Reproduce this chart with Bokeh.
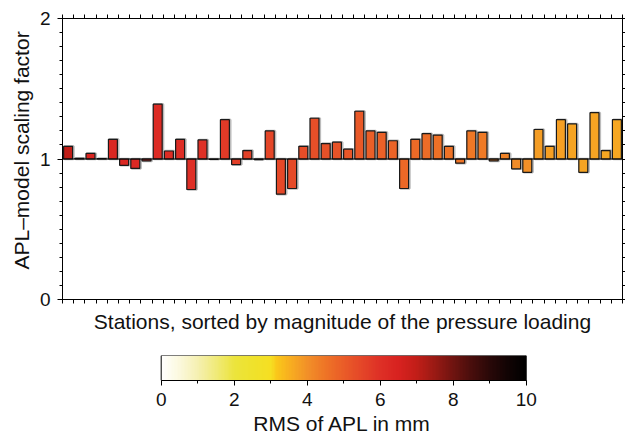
import numpy as np
from bokeh.plotting import figure
from bokeh.models import (ColumnDataSource, LinearColorMapper, Range1d, LinearAxis,
                          FixedTicker, Span, Title)
from bokeh.layouts import column
from bokeh.transform import dodge
from bokeh.embed import file_html
from bokeh.resources import INLINE

# ---------------- data ----------------
station = list(range(1, 51))
factor = [1.09, 1.005, 1.04, 1.003, 1.14, 0.955, 0.933, 0.986, 1.39, 1.057,
          1.14, 0.783, 1.136, 0.998, 1.28, 0.96, 1.06, 0.996, 1.20, 0.75,
          0.79, 1.09, 1.29, 1.11, 1.12, 1.07, 1.34, 1.20, 1.19, 1.13,
          0.79, 1.14, 1.18, 1.17, 1.09, 0.97, 1.20, 1.19, 0.986, 1.04,
          0.93, 0.905, 1.21, 1.09, 1.28, 1.25, 0.905, 1.33, 1.06, 1.28]
rms_mm = [7.0, 6.6, 6.4, 6.35, 6.3, 6.3, 6.25, 6.2, 6.2, 6.15,
          6.1, 6.05, 6.0, 5.9, 5.75, 5.7, 5.65, 5.6, 5.5, 5.45,
          5.4, 5.35, 5.3, 5.25, 5.2, 5.15, 5.05, 4.95, 4.9, 4.85,
          4.75, 4.7, 4.65, 4.6, 4.55, 4.5, 4.45, 4.4, 4.3, 4.25,
          4.1, 4.0, 3.8, 3.75, 3.75, 3.7, 3.7, 3.7, 3.65, 3.65]
BASE = 1.0
y_ticks = [0, 1, 2]
cbar_ticks = [0, 2, 4, 6, 8, 10]

# colour scale anchors (value, colour)
cmap_vals = [0.0, 0.5, 1.0, 1.5, 2.0, 2.5, 3.0, 3.15, 3.5, 4.0, 4.5, 5.0,
             5.5, 6.0, 6.5, 7.0, 7.5, 8.0, 8.5, 9.0, 9.5, 10.0]
cmap_cols = ["#ffffff", "#fbf8dc", "#f5f0b0", "#f0ea78", "#ece43c", "#efe22c",
             "#f6df22", "#fac81a", "#f8b020", "#f29028", "#ee7426", "#ea5c28",
             "#e44628", "#de3026", "#d82220", "#c21e18", "#9a1a14", "#701410",
             "#4a0e0c", "#2a0808", "#120404", "#000000"]


def hex2rgb(h):
    return np.array([int(h[i:i + 2], 16) for i in (1, 3, 5)], float)


grid = np.linspace(cbar_ticks[0], cbar_ticks[-1], 256)
rgb = np.array([hex2rgb(c) for c in cmap_cols])
palette = []
for g in grid:
    r = [np.interp(g, cmap_vals, rgb[:, k]) for k in range(3)]
    palette.append("#%02x%02x%02x" % tuple(int(round(v)) for v in r))

mapper = LinearColorMapper(palette=palette, low=cbar_ticks[0], high=cbar_ticks[-1])

FONT = "Liberation Sans"
TXT = "#111111"

# layout (pixels)
W = 625
BL, FW, BR = 62, 560, 3          # left border, frame width, right border
CB_L, CB_R = 160.7, 525.7         # colour bar pixel extent

# ---------------- main figure ----------------
src = ColumnDataSource(dict(station=station, factor=factor, rms=rms_mm))

p = figure(width=W, height=340, x_range=Range1d(0.5, len(station) + 0.5), y_range=Range1d(0, 2),
           output_backend="svg", toolbar_location=None,
           min_border_left=BL, min_border_right=BR, min_border_top=18, min_border_bottom=41)
p.xgrid.visible = False
p.ygrid.visible = False
p.outline_line_color = "black"
p.outline_line_width = 1
p.background_fill_color = "white"
p.border_fill_color = "white"

xtick = FixedTicker(ticks=[s - 0.5 for s in station] + [station[-1] + 0.5], minor_ticks=[])
ytick = FixedTicker(ticks=y_ticks, minor_ticks=[i / 10 for i in range(0, 21)])

xa = p.xaxis[0]
xa.ticker = xtick
xa.major_label_text_font_size = "0px"
xa.major_label_text_color = None
xa.major_label_standoff = 0
xa.major_tick_out = 4
xa.major_tick_in = 0
xa.minor_tick_out = 0
xa.axis_label = "Stations, sorted by magnitude of the pressure loading"
xa.axis_label_text_font = FONT
xa.axis_label_text_font_size = "21px"
xa.axis_label_text_font_style = "normal"
xa.axis_label_text_color = TXT
xa.axis_label_standoff = 6

ya = p.yaxis[0]
ya.ticker = ytick
ya.major_label_text_font = FONT
ya.major_label_text_font_size = "19px"
ya.major_label_text_color = TXT
ya.major_label_standoff = 7
ya.major_tick_out = 5
ya.major_tick_in = 0
ya.minor_tick_out = 3
ya.minor_tick_in = 0

# y label as a side title so it can sit slightly above the frame centre, like the original
ytitle = Title(text="APL\u2013model scaling factor", align="left", offset=30,
               vertical_align="bottom", standoff=8, text_font=FONT,
               text_font_size="21px", text_font_style="normal", text_color=TXT)
p.add_layout(ytitle, "left")

ra = LinearAxis(ticker=ytick, major_label_text_font_size="0px", major_label_text_color=None,
                major_label_standoff=0,
                major_tick_out=3, major_tick_in=0, minor_tick_out=3, minor_tick_in=0)
p.add_layout(ra, "right")
ta = LinearAxis(ticker=xtick, major_label_text_font_size="0px", major_label_text_color=None,
                major_label_standoff=0,
                major_tick_out=4, major_tick_in=0, minor_tick_out=0, minor_tick_in=0)
p.add_layout(ta, "above")
for ax in (xa, ya, ra, ta):
    ax.axis_line_color = "black"
    ax.major_tick_line_color = "black"
    ax.minor_tick_line_color = "black"

# soft grey shadow behind each bar
p.vbar(x=dodge("station", 0.08, range=p.x_range), width=0.8, bottom=BASE, top="factor",
       source=src, fill_color=None, line_color="#bcbcbc", line_width=2.5)
p.vbar(x="station", width=0.8, bottom=BASE, top="factor", source=src,
       fill_color={"field": "rms", "transform": mapper},
       line_color="#1a1a1a", line_width=1.2)
p.add_layout(Span(location=BASE, dimension="width", line_color="black", line_width=1))

# ---------------- colour bar figure ----------------
lo, hi = cbar_ticks[0], cbar_ticks[-1]
upp = (hi - lo) / (CB_R - CB_L)   # data units per pixel
cx0 = lo - (CB_L - BL) * upp
cx1 = hi + (BL + FW - CB_R) * upp

c = figure(width=W, height=97, x_range=Range1d(cx0, cx1), y_range=Range1d(0, 1),
           output_backend="svg", toolbar_location=None, y_axis_location=None,
           min_border_left=BL, min_border_right=BR, min_border_top=15, min_border_bottom=54)
c.xgrid.visible = False
c.ygrid.visible = False
c.outline_line_color = None
c.image(image=[grid.reshape(1, -1)], x=lo, y=0, dw=hi - lo, dh=1, color_mapper=mapper)
c.quad(left=[lo], right=[hi], bottom=[0], top=[1], fill_color=None, line_color="black",
       line_width=1)

ca = c.xaxis[0]
ca.bounds = (lo, hi)
ca.ticker = FixedTicker(ticks=cbar_ticks, minor_ticks=list(range(lo, hi + 1)))
ca.major_label_text_font = FONT
ca.major_label_text_font_size = "19px"
ca.major_label_text_color = TXT
ca.major_label_standoff = 7
ca.major_tick_out = 5
ca.major_tick_in = 0
ca.minor_tick_out = 3
ca.minor_tick_in = 0
ca.axis_line_color = "black"
ca.axis_label = "RMS of APL in mm"
ca.axis_label_text_font = FONT
ca.axis_label_text_font_size = "21px"
ca.axis_label_text_font_style = "normal"
ca.axis_label_text_color = TXT
ca.axis_label_standoff = 3

layout = column(p, c)
open("out.html", "w").write(file_html(layout, INLINE))
